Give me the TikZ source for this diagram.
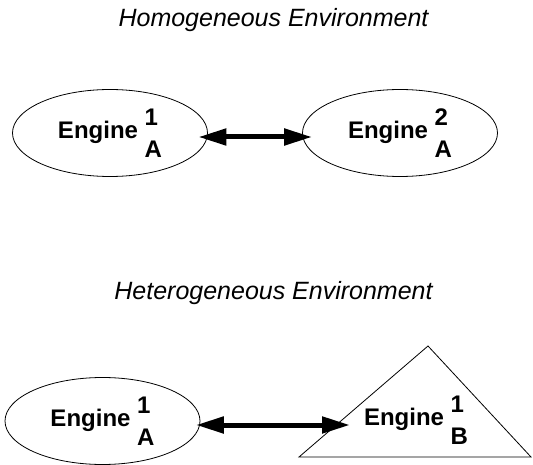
\documentclass[tikz,border=0pt]{standalone}
\usepackage{fontspec}
\setmainfont{Liberation Sans}
\usetikzlibrary{arrows.meta,shapes.geometric}
\newcommand\engstack[2]{\makebox[0pt][l]{\raisebox{13pt}{#1}}\raisebox{-19pt}{#2}}
\tikzset{
  title/.style={font=\fontsize{25}{29}\selectfont\itshape, inner sep=0pt, anchor=base},
  engine/.style={ellipse, draw, line width=0.8pt, minimum width=195pt, minimum height=87pt, inner sep=0pt,
                 font=\fontsize{24}{28}\selectfont\bfseries},
  enginetext/.style={inner sep=0pt, font=\fontsize{24}{28}\selectfont\bfseries},
  biarrow/.style={line width=5pt, {Triangle[length=28pt,width=16pt]}-{Triangle[length=28pt,width=16pt]}},
  thin/.style={line width=0.8pt}
}
\begin{document}
\begin{tikzpicture}[x=1pt,y=-1pt]
\useasboundingbox (0,0) rectangle (533,465);
% titles
\node[title] (t1) at (273.5,27) {Homogeneous Environment};
\node[title] (t2) at (273.5,299) {Heterogeneous Environment};
% top row
\node[engine] (e1) at (110,133) {Engine \engstack{1}{A}};
\node[engine] (e2) at (400,133) {Engine \engstack{2}{A}};
\draw[biarrow] ([shift={(-9.5,4)}]e1.east) -- ([shift={(10,4)}]e2.west);
% bottom row
\node[engine] (e3) at (102.5,421) {Engine \engstack{1}{A}};
\coordinate (tA) at (428,346);
\coordinate (tL) at (299,457);
\coordinate (tR) at (531,457);
\draw[thin] (tA) -- (tL) -- (tR) -- cycle;
\node[enginetext] (e4) at (416,420) {Engine \engstack{1}{B}};
\coordinate (tip) at (350,425);
\draw[biarrow] ([shift={(-4.5,4)}]e3.east) -- (tip);
\end{tikzpicture}
\end{document}
